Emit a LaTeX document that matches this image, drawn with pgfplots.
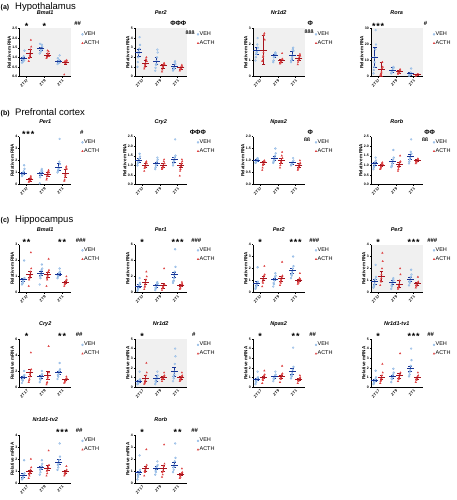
\documentclass[border=0pt]{standalone}
\usepackage{fontspec}
\setmainfont{Liberation Sans}
\usepackage{pgfplots}
\usepackage{pgfplotstable}
\pgfplotsset{compat=1.18}
\definecolor{vehl}{RGB}{140,182,228}
\definecolor{vehd}{RGB}{22,52,150}
\definecolor{acthl}{RGB}{222,70,70}
\definecolor{acthd}{RGB}{165,20,30}
\pgfplotsset{
 pan/.style={
  scale only axis, width=51.5pt, height=48pt,
  axis x line*=bottom, axis y line*=left,
  xmin=-0.4, xmax=2.5, ymin=0,
  xtick={0,1,2}, xticklabels={ZT\kern0.12em17,ZT\kern0.12em9,ZT\kern0.12em1},
  x tick label style={rotate=45, anchor=north east, font=\fontsize{3.8}{4}\selectfont\bfseries, inner sep=0.8pt},
  y tick label style={font=\fontsize{3.5}{4}\selectfont\bfseries, inner sep=0.8pt},
  /pgf/number format/assume math mode=true,
  ylabel={Relative mRNA},
  ylabel style={font=\fontsize{4.6}{5}\selectfont\bfseries, inner sep=0pt},
  ylabel shift=0.5pt,
  title style={font=\fontsize{5.5}{6}\selectfont\bfseries\itshape, inner sep=0pt, at={(0.5,1)}, anchor=base, yshift=7.5pt},
  tick align=outside, major tick length=1.2pt,
  every tick/.style={black, line width=0.35pt},
  axis line style={line width=0.45pt},
  clip=false,
  legend style={at={(1.2,0.95)}, anchor=north west, draw=none, fill=none, font=\fontsize{5.5}{6}\selectfont, inner sep=0pt, row sep=2.3pt, nodes={inner sep=0.6pt}},
  legend cell align=left,
  legend image code/.code={\draw[mark repeat=2,mark phase=2,##1] plot coordinates {(0pt,0pt)(2.5pt,0pt)(5pt,0pt)};},
 },
 gbg/.style={axis background/.style={fill=black!6}},
 d1/.style={y tick label style={/pgf/number format/.cd, fixed, fixed zerofill, precision=1}},
 vp/.style={only marks, mark=*, mark size=1pt, color=vehl, mark options={fill=vehl!60, draw=vehl, line width=0.3pt}},
 ap/.style={only marks, mark=triangle*, mark size=0.85pt, color=acthl},
 vm/.style={forget plot, only marks, mark=-, mark size=3.5pt, mark options={line width=0.9pt, draw=vehd}, error bars/.cd, y dir=both, y explicit, error bar style={line width=0.6pt, vehd}, error mark options={rotate=90, mark size=1.8pt, line width=0.6pt, vehd}},
 am/.style={forget plot, only marks, mark=-, mark size=3.5pt, mark options={line width=0.9pt, draw=acthd}, error bars/.cd, y dir=both, y explicit, error bar style={line width=0.6pt, acthd}, error mark options={rotate=90, mark size=1.8pt, line width=0.6pt, acthd}},
}
\newcommand{\pts}[1]{%
\addplot[vp] table[x expr=\thisrow{j}-0.19,y=v0]{#1};\addlegendentry{VEH}
\addplot[ap] table[x expr=\thisrow{j}+0.19,y=a0]{#1};\addlegendentry{ACTH}
\addplot[vp,forget plot] table[x expr=\thisrow{j}+0.81,y=v1]{#1};
\addplot[ap,forget plot] table[x expr=\thisrow{j}+1.19,y=a1]{#1};
\addplot[vp,forget plot] table[x expr=\thisrow{j}+1.81,y=v2]{#1};
\addplot[ap,forget plot] table[x expr=\thisrow{j}+2.19,y=a2]{#1};}
\newcommand{\mv}[6]{\addplot[vm] coordinates {(-0.19,#1) +- (0,#2) (0.81,#3) +- (0,#4) (1.81,#5) +- (0,#6)};}
\newcommand{\ma}[6]{\addplot[am] coordinates {(0.19,#1) +- (0,#2) (1.19,#3) +- (0,#4) (2.19,#5) +- (0,#6)};}
\newcommand{\st}[2]{\node[font=\fontsize{9}{9}\selectfont\bfseries, anchor=base, inner sep=0pt] at ([yshift=-0.7pt]rel axis cs:#1,1) {#2};}
\newcommand{\rt}[4]{\node[font=\fontsize{#4}{6}\selectfont\bfseries, inner sep=0pt] at ([yshift=#2]rel axis cs:#1,1) {#3};}
\newcommand{\sOne}{*}
\newcommand{\sTwo}{*\hspace{0.8pt}*}
\newcommand{\sThree}{*\hspace{0.8pt}*\hspace{0.8pt}*}
\begin{document}
\pgfplotstableread{
j v0 a0 v1 a1 v2 a2
-0.07 0.72 0.80 1.20 0.95 0.65 0.10
0.05 0.85 1.90 1.65 1.30 1.10 0.80
-0.03 0.95 1.00 1.45 1.10 0.80 0.75
0.07 1.35 1.55 1.55 1.05 0.75 0.85
0.00 0.80 1.20 1.30 1.20 0.70 0.70
-0.05 0.90 0.95 1.70 1.00 0.95 0.78
0.03 1.05 1.40 1.40 1.15 0.85 0.82
-0.01 0.78 1.10 1.35 1.35 0.72 0.72
}\tA
\pgfplotstableread{
j v0 a0 v1 a1 v2 a2
-0.07 1.0 0.8 0.6 0.5 0.6 0.6
0.05 4.1 2.0 2.8 1.4 1.6 1.2
-0.03 2.0 1.2 1.2 1.0 0.9 0.9
0.07 3.3 1.6 2.5 1.3 1.3 1.0
0.00 2.6 1.4 1.6 1.2 1.0 0.8
-0.05 1.5 1.0 0.9 0.7 0.7 0.7
0.03 2.9 1.8 2.0 1.3 1.5 1.1
-0.01 2.4 1.3 1.3 1.1 0.8 0.9
}\tB
\pgfplotstableread{
j v0 a0 v1 a1 v2 a2
-0.07 1.0 0.95 0.9 0.8 0.9 0.75
0.05 2.4 2.7 1.5 1.45 1.8 1.4
-0.03 1.4 1.2 1.2 0.9 1.1 1.0
0.07 1.8 2.3 1.4 1.1 1.6 1.3
0.00 1.6 1.5 1.3 1.0 1.3 1.15
-0.05 1.2 1.0 1.0 0.85 1.0 0.9
0.03 2.0 2.6 1.45 1.05 1.7 1.25
-0.01 1.5 1.3 1.25 0.95 1.2 1.1
}\tC
\pgfplotstableread{
j v0 a0 v1 a1 v2 a2
-0.07 2 0.5 2 1.5 0.5 0.3
0.05 29 9 6 4.5 5 1.5
-0.03 6 1 3 2 1 0.8
0.07 20 6 5.5 3.5 2 1.2
0.00 12 3 4 3 1.5 1
-0.05 4 1.5 2.5 2.5 0.8 0.6
0.03 17 5 5 4 2.5 1.3
-0.01 9 2 3.5 2.8 1.2 0.9
}\tD
\pgfplotstableread{
j v0 a0 v1 a1 v2 a2
-0.07 0.7 0.2 0.1 0.4 1.0 0.3
0.05 1.6 0.7 1.3 1.2 3.8 1.5
-0.03 0.9 0.3 0.8 0.7 1.2 0.6
0.07 1.3 0.5 1.1 1.0 1.7 1.3
0.00 0.95 0.4 0.9 0.9 1.4 0.9
-0.05 0.8 0.25 0.6 0.5 1.1 0.4
0.03 1.1 0.6 1.2 1.1 1.9 1.4
-0.01 0.85 0.35 1.0 0.8 1.3 0.8
}\tE
\pgfplotstableread{
j v0 a0 v1 a1 v2 a2
-0.07 1.0 0.7 0.8 0.8 1.0 0.45
0.05 1.6 1.2 1.4 1.3 2.35 1.3
-0.03 1.15 0.9 1.0 0.9 1.2 0.8
0.07 1.45 1.1 1.3 1.1 1.5 1.2
0.00 1.25 1.0 1.1 1.0 1.3 1.0
-0.05 1.1 0.85 0.9 0.85 1.1 0.7
0.03 1.35 1.15 1.2 1.2 1.4 1.1
-0.01 1.2 0.95 1.05 0.95 1.25 0.95
}\tF
\pgfplotstableread{
j v0 a0 v1 a1 v2 a2
-0.07 0.9 0.6 0.9 0.7 0.8 0.6
0.05 1.1 1.0 1.5 1.35 1.1 1.0
-0.03 0.95 0.8 1.0 0.9 0.85 0.7
0.07 1.05 0.95 1.3 1.1 1.0 0.9
0.00 1.0 0.9 1.1 1.0 0.9 0.8
-0.05 0.92 0.7 0.95 0.8 0.82 0.65
0.03 1.08 0.98 1.2 1.2 0.95 0.85
-0.01 0.98 0.85 1.05 0.95 0.88 0.75
}\tG
\pgfplotstableread{
j v0 a0 v1 a1 v2 a2
-0.07 0.8 0.8 0.9 0.7 1.1 1.1
0.05 1.4 1.15 1.8 1.5 2.35 1.35
-0.03 0.95 0.9 1.0 0.9 1.3 1.15
0.07 1.25 1.05 1.4 1.2 1.6 1.3
0.00 1.1 1.0 1.2 1.05 1.45 1.25
-0.05 0.9 0.85 0.95 0.8 1.2 1.2
0.03 1.2 1.1 1.3 1.15 1.7 1.3
-0.01 1.05 0.95 1.1 1.0 1.4 1.22
}\tH
\pgfplotstableread{
j v0 a0 v1 a1 v2 a2
-0.07 0.5 0.4 0.5 0.4 0.9 0.4
0.05 2.0 2.5 1.75 2.1 1.5 1.0
-0.03 0.6 0.9 0.9 0.8 1.0 0.5
0.07 0.9 1.5 1.5 1.4 1.3 0.8
0.00 0.75 1.1 1.2 1.1 1.15 0.65
-0.05 0.55 0.8 1.0 0.9 1.05 0.55
0.03 0.85 1.3 1.4 1.3 1.25 0.75
-0.01 0.7 1.0 1.1 1.0 1.1 0.6
}\tI
\pgfplotstableread{
j v0 a0 v1 a1 v2 a2
-0.07 0.2 0.4 0.3 0.3 1.2 0.4
0.05 1.8 2.6 1.3 3.0 5.4 1.3
-0.03 0.5 0.8 0.5 0.6 1.5 0.6
0.07 1.2 2.0 1.1 1.0 3.2 1.1
0.00 0.8 1.3 0.85 0.8 2.2 0.85
-0.05 0.4 0.7 0.6 0.5 1.4 0.5
0.03 1.0 1.6 1.2 0.9 2.6 1.0
-0.01 0.7 1.1 0.9 0.7 1.8 0.8
}\tJ
\pgfplotstableread{
j v0 a0 v1 a1 v2 a2
-0.07 0.3 0.5 0.5 0.6 1.2 0.7
0.05 2.1 2.2 1.6 2.55 3.0 1.6
-0.03 0.5 0.8 0.7 0.8 1.4 0.8
0.07 0.9 1.5 1.4 1.4 2.2 1.1
0.00 0.7 1.2 1.1 1.1 1.8 1.0
-0.05 0.4 0.9 0.8 0.9 1.5 0.85
0.03 0.8 1.4 1.3 1.3 2.0 1.2
-0.01 0.6 1.1 1.0 1.0 1.6 0.9
}\tK
\pgfplotstableread{
j v0 a0 v1 a1 v2 a2
-0.07 0.4 0.6 0.3 0.3 0.6 0.4
0.05 2.3 3.3 1.2 2.0 1.9 1.3
-0.03 0.6 0.9 0.5 0.5 0.8 0.5
0.07 1.3 2.6 1.0 1.5 1.5 0.9
0.00 0.9 1.5 0.85 0.7 1.1 0.75
-0.05 0.5 1.0 0.6 0.4 0.9 0.6
0.03 1.1 2.0 1.1 1.0 1.3 0.8
-0.01 0.7 1.2 0.8 0.6 1.0 0.7
}\tL
\pgfplotstableread{
j v0 a0 v1 a1 v2 a2
-0.07 0.5 0.6 0.6 0.3 1.0 0.5
0.05 2.0 4.3 2.0 5.1 3.0 1.3
-0.03 0.8 1.0 0.9 0.6 1.3 0.7
0.07 1.5 2.2 1.6 1.8 2.2 1.1
0.00 1.2 1.6 1.3 1.2 1.8 0.9
-0.05 0.9 0.8 1.0 0.5 1.5 0.6
0.03 1.4 1.9 1.5 1.4 2.0 1.0
-0.01 1.1 1.3 1.2 1.0 1.6 0.8
}\tM
\pgfplotstableread{
j v0 a0 v1 a1 v2 a2
-0.07 0.3 0.3 0.3 0.6 0.6 0.6
0.05 1.6 2.5 1.6 1.5 4.0 1.5
-0.03 0.4 0.5 0.5 0.8 0.9 0.7
0.07 0.8 1.5 1.2 1.2 3.2 1.2
0.00 0.6 0.9 0.9 1.0 1.6 1.0
-0.05 0.35 0.4 0.6 0.9 1.1 0.8
0.03 0.7 1.2 1.0 1.1 2.4 1.1
-0.01 0.5 0.7 0.8 0.95 1.3 0.9
}\tN
\pgfplotstableread{
j v0 a0 v1 a1 v2 a2
-0.07 0.3 0.4 0.6 0.5 0.9 0.4
0.05 1.6 1.7 1.6 2.2 4.1 1.2
-0.03 0.5 0.7 0.8 0.8 1.1 0.6
0.07 1.0 1.3 1.3 1.4 2.1 1.0
0.00 0.8 1.0 1.05 1.1 1.6 0.8
-0.05 0.6 0.8 0.9 0.9 1.2 0.7
0.03 0.9 1.2 1.2 1.3 1.8 0.9
-0.01 0.7 0.9 1.0 1.0 1.4 0.75
}\tO
\pgfplotstableread{
j v0 a0 v1 a1 v2 a2
-0.07 0.3 0.4 0.5 0.6 1.1 0.5
0.05 1.7 2.4 1.9 3.5 4.0 1.5
-0.03 0.5 0.7 0.8 0.8 1.3 0.7
0.07 1.0 1.5 1.5 1.5 2.8 1.2
0.00 0.7 1.0 1.1 1.2 1.9 0.95
-0.05 0.4 0.6 0.9 0.9 1.5 0.8
0.03 0.8 1.2 1.3 1.3 2.2 1.1
-0.01 0.6 0.9 1.0 1.0 1.7 0.9
}\tP
\pgfplotstableread{
j v0 a0 v1 a1 v2 a2
-0.07 0.3 0.4 0.7 0.6 1.1 0.6
0.05 1.9 2.0 1.9 2.7 3.3 1.4
-0.03 0.4 0.6 0.9 0.8 1.3 0.7
0.07 0.8 1.3 1.6 1.5 2.2 1.1
0.00 0.6 0.9 1.3 1.2 1.7 0.95
-0.05 0.35 0.7 1.1 1.0 1.5 0.8
0.03 0.7 1.1 1.4 1.3 1.9 1.0
-0.01 0.5 0.8 1.2 1.1 1.6 0.9
}\tQ
\pgfplotstableread{
j v0 a0 v1 a1 v2 a2
-0.07 0.3 0.6 0.7 0.5 0.9 0.4
0.05 2.3 2.8 1.8 3.2 3.3 1.2
-0.03 0.5 0.9 0.9 0.7 1.1 0.5
0.07 1.1 1.5 1.5 1.6 2.1 0.9
0.00 0.8 1.2 1.25 1.2 1.5 0.75
-0.05 0.6 1.0 1.0 0.9 1.3 0.6
0.03 0.9 1.3 1.4 1.4 1.8 0.8
-0.01 0.7 1.1 1.2 1.0 1.4 0.7
}\tR
\begin{tikzpicture}
\useasboundingbox (0pt,0pt) rectangle (456pt,-500pt);
\node[anchor=base west, font=\fontsize{7}{8}\selectfont\bfseries, inner sep=0pt] at (0.5pt,-9.5pt) {(a)};
\node[anchor=base west, font=\fontsize{9.5}{10}\selectfont, inner sep=0pt] at (15pt,-9.5pt) {Hypothalamus};
\node[anchor=base west, font=\fontsize{7}{8}\selectfont\bfseries, inner sep=0pt] at (0.5pt,-115.5pt) {(b)};
\node[anchor=base west, font=\fontsize{9.5}{10}\selectfont, inner sep=0pt] at (15pt,-115.5pt) {Prefrontal cortex};
\node[anchor=base west, font=\fontsize{7}{8}\selectfont\bfseries, inner sep=0pt] at (0.5pt,-222.5pt) {(c)};
\node[anchor=base west, font=\fontsize{9.5}{10}\selectfont, inner sep=0pt] at (15pt,-222.5pt) {Hippocampus};
% ---------- row a
\begin{axis}[pan, gbg, d1, at={(19.5pt,-28.5pt)}, anchor=north west, title={Bmal1}, ymax=2.5, ytick={0,0.5,...,2.5}]
\pts{\tA}\mv{0.92}{0.08}{1.45}{0.07}{0.80}{0.05}\ma{1.20}{0.2}{1.12}{0.07}{0.72}{0.07}
\st{0.138}{\sOne}\st{0.483}{\sOne}\rt{1.13}{5pt}{\#\#}{6}
\end{axis}
\begin{axis}[pan, gbg, at={(135pt,-28.5pt)}, anchor=north west, title={Per2}, ymax=5, ytick={0,1,...,5}]
\pts{\tB}\mv{2.5}{0.35}{1.6}{0.35}{1.05}{0.2}\ma{1.4}{0.3}{1.1}{0.2}{0.9}{0.1}
\rt{0.84}{5pt}{ΦΦΦ}{6.5}\rt{1.07}{-4pt}{ßßß}{5}
\end{axis}
\begin{axis}[pan, gbg, at={(253pt,-28.5pt)}, anchor=north west, title={Nr1d2}, ymax=3, ytick={0,1,2,3}]
\pts{\tC}\mv{1.6}{0.2}{1.3}{0.1}{1.3}{0.3}\ma{1.65}{0.9}{1.0}{0.1}{1.15}{0.15}
\rt{1.11}{5pt}{Φ}{6.5}\rt{1.09}{-3.5pt}{ßßß}{5}
\end{axis}
\begin{axis}[pan, gbg, at={(371pt,-28.5pt)}, anchor=north west, title={Rora}, ymax=30, ytick={0,10,20,30}]
\pts{\tD}\mv{12}{6}{4}{1.5}{1.8}{0.8}\ma{4.5}{4.5}{3}{1}{1}{0.3}
\st{0.138}{\sThree}\rt{1.06}{5.5pt}{\#}{6}
\end{axis}
% ---------- row b
\begin{axis}[pan, at={(19.5pt,-136.5pt)}, anchor=north west, title={Per1}, ymax=4, ytick={0,1,...,4}]
\pts{\tE}\mv{0.95}{0.1}{0.9}{0.15}{1.45}{0.3}\ma{0.4}{0.1}{0.85}{0.2}{0.95}{0.35}
\st{0.17}{\sThree}\rt{1.21}{4.5pt}{\#}{6}
\end{axis}
\begin{axis}[pan, d1, at={(135pt,-136.5pt)}, anchor=north west, title={Cry2}, ymax=2.5, ytick={0,0.5,...,2.5}]
\pts{\tF}\mv{1.25}{0.1}{1.1}{0.08}{1.3}{0.12}\ma{1.0}{0.08}{1.0}{0.08}{1.0}{0.12}
\rt{1.22}{4.5pt}{ΦΦΦ}{6.5}
\end{axis}
\begin{axis}[pan, d1, at={(253pt,-136.5pt)}, anchor=north west, title={Npas2}, ymax=2, ytick={0,0.5,...,2}]
\pts{\tG}\mv{1.0}{0.04}{1.1}{0.08}{0.9}{0.04}\ma{0.9}{0.07}{1.0}{0.1}{0.8}{0.07}
\rt{1.11}{4.5pt}{Φ}{6.5}\rt{1.05}{-3.5pt}{ßß}{5}
\end{axis}
\begin{axis}[pan, d1, at={(371pt,-136.5pt)}, anchor=north west, title={Rorb}, ymax=2.5, ytick={0,0.5,...,2.5}]
\pts{\tH}\mv{1.1}{0.08}{1.2}{0.1}{1.45}{0.12}\ma{1.0}{0.07}{1.05}{0.1}{1.25}{0.05}
\rt{1.14}{4.5pt}{ΦΦ}{6.5}\rt{1.05}{-3.5pt}{ßß}{5}
\end{axis}
% ---------- row c1
\begin{axis}[pan, at={(19.5pt,-244.5pt)}, anchor=north west, title={Bmal1}, ymax=3, ytick={0,1,2,3}]
\pts{\tI}\mv{0.8}{0.1}{1.2}{0.12}{1.15}{0.08}\ma{1.15}{0.2}{1.1}{0.15}{0.65}{0.08}
\st{0.138}{\sTwo}\st{0.828}{\sTwo}\rt{1.19}{4.5pt}{\#\#\#}{6}
\end{axis}
\begin{axis}[pan, at={(135pt,-244.5pt)}, anchor=north west, title={Per1}, ymax=6, ytick={0,2,4,6}]
\pts{\tJ}\mv{0.8}{0.2}{0.85}{0.15}{2.2}{0.35}\ma{1.3}{0.3}{0.85}{0.3}{0.85}{0.12}
\st{0.138}{\sOne}\st{0.828}{\sThree}\rt{1.19}{4.5pt}{\#\#\#}{6}
\end{axis}
\begin{axis}[pan, at={(253pt,-244.5pt)}, anchor=north west, title={Per2}, ymax=4, ytick={0,1,...,4}]
\pts{\tK}\mv{0.75}{0.15}{1.1}{0.12}{1.8}{0.2}\ma{1.2}{0.15}{1.15}{0.2}{1.0}{0.1}
\st{0.138}{\sOne}\st{0.828}{\sThree}\rt{1.19}{4.5pt}{\#\#\#}{6}
\end{axis}
\begin{axis}[pan, gbg, at={(371pt,-244.5pt)}, anchor=north west, title={Per3}, ymax=4, ytick={0,1,...,4}]
\pts{\tL}\mv{0.9}{0.2}{0.85}{0.2}{1.1}{0.2}\ma{1.35}{0.45}{0.7}{0.3}{0.75}{0.12}
\st{0.138}{\sOne}\st{0.828}{\sThree}\rt{1.19}{4.5pt}{\#\#\#}{6}
\end{axis}
% ---------- row c2
\begin{axis}[pan, at={(19.5pt,-339pt)}, anchor=north west, title={Cry2}, ymax=6, ytick={0,2,4,6}]
\pts{\tM}\mv{1.2}{0.15}{1.3}{0.15}{1.8}{0.2}\ma{1.8}{0.4}{1.5}{0.5}{0.9}{0.1}
\st{0.138}{\sOne}\st{0.828}{\sTwo}\rt{1.16}{4.5pt}{\#\#}{6}
\end{axis}
\begin{axis}[pan, gbg, at={(135pt,-339pt)}, anchor=north west, title={Nr1d2}, ymax=5, ytick={0,1,...,5}]
\pts{\tN}\mv{0.6}{0.12}{0.9}{0.3}{1.6}{0.5}\ma{0.9}{0.3}{1.0}{0.15}{1.0}{0.15}
\st{0.138}{\sOne}\rt{1.14}{4.5pt}{\#}{6}
\end{axis}
\begin{axis}[pan, at={(253pt,-339pt)}, anchor=north west, title={Npas2}, ymax=5, ytick={0,1,...,5}]
\pts{\tO}\mv{0.8}{0.12}{1.05}{0.1}{1.6}{0.3}\ma{1.0}{0.12}{1.1}{0.15}{0.8}{0.08}
\st{0.138}{\sOne}\st{0.828}{\sTwo}\rt{1.16}{4.5pt}{\#\#}{6}
\end{axis}
\begin{axis}[pan, at={(371pt,-339pt)}, anchor=north west, title={Nr1d1-tv1}, ymax=5, ytick={0,1,...,5}]
\pts{\tP}\mv{0.7}{0.12}{1.1}{0.15}{1.9}{0.3}\ma{1.0}{0.2}{1.2}{0.25}{0.95}{0.1}
\st{0.138}{\sOne}\st{0.828}{\sThree}\rt{1.16}{4.5pt}{\#\#}{6}
\end{axis}
% ---------- row c3
\begin{axis}[pan, at={(19.5pt,-435pt)}, anchor=north west, title={Nr1d1-tv2}, ymax=4, ytick={0,1,...,4}]
\pts{\tQ}\mv{0.65}{0.15}{1.3}{0.12}{1.75}{0.2}\ma{0.95}{0.15}{1.25}{0.2}{0.95}{0.1}
\st{0.828}{\sThree}\rt{1.16}{4.5pt}{\#\#}{6}
\end{axis}
\begin{axis}[pan, at={(135pt,-435pt)}, anchor=north west, title={Rorb}, ymax=4, ytick={0,1,...,4}]
\pts{\tR}\mv{0.85}{0.15}{1.25}{0.12}{1.5}{0.2}\ma{1.2}{0.2}{1.2}{0.25}{0.75}{0.1}
\st{0.138}{\sOne}\st{0.828}{\sTwo}\rt{1.16}{4.5pt}{\#\#}{6}
\end{axis}
\end{tikzpicture}
\end{document}
